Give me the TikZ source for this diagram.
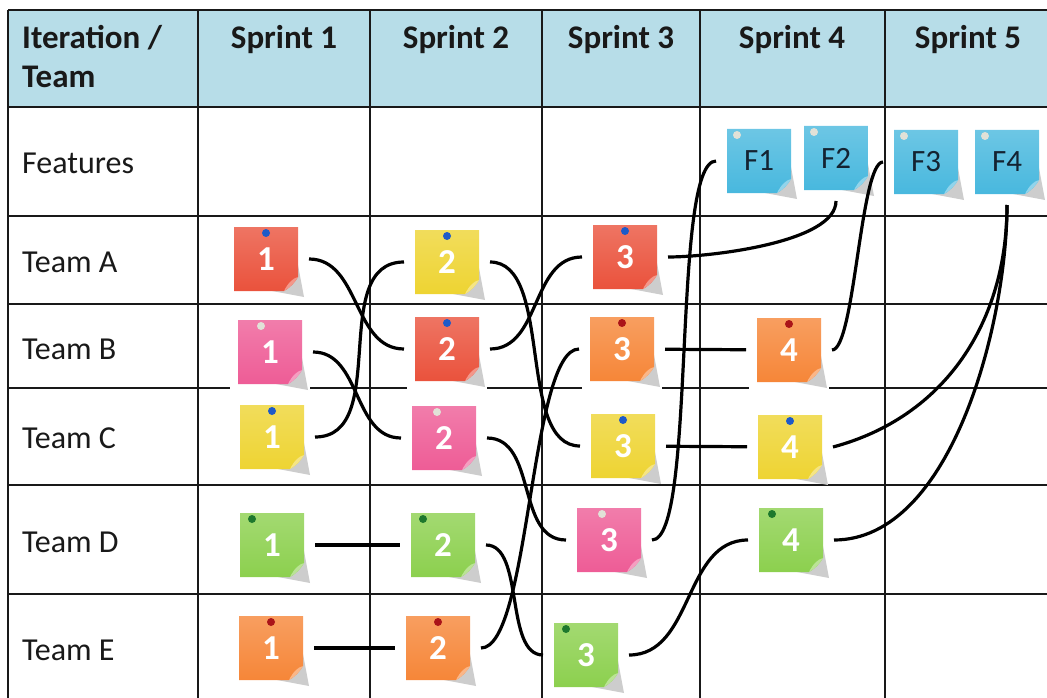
\documentclass[tikz,border=0pt]{standalone}
\usepackage{fontspec}
\setmainfont{Carlito}
\usepackage{tikz}
\usepackage{xcolor}
\definecolor{headerblue}{RGB}{183, 221, 232}
\definecolor{gridblack}{RGB}{25, 25, 25}
\definecolor{notered}{RGB}{234, 82, 60}
\definecolor{noteyellow}{RGB}{238, 212, 50}
\definecolor{notepink}{RGB}{238, 92, 150}
\definecolor{noteorange}{RGB}{246, 134, 56}
\definecolor{notegreen}{RGB}{140, 208, 78}
\definecolor{noteblue}{RGB}{72, 184, 222}
\definecolor{pinblue}{RGB}{30, 90, 200}
\definecolor{pinred}{RGB}{170, 20, 25}
\definecolor{pingreen}{RGB}{30, 120, 45}
\definecolor{pinwhite}{RGB}{225, 225, 215}
\definecolor{curlgray}{RGB}{205, 205, 205}
\definecolor{featuretext}{RGB}{20, 35, 50}

% sticky note: [pin x offset]{name}{position}{paper}{pin}{text style}{text}
\newcommand{\postit}[7][0]{%
    \begin{scope}[shift={#3}]
        \fill[curl] (32,-6) -- (38,-38) -- (6,-32) -- cycle;
        \shade[top color=#4!80!white, bottom color=#4] (-32,32) -- (32,32) -- (32,-18) .. controls (29,-23) and (25,-28) .. (18,-32) -- (-32,-32) -- cycle;
        \fill[#4!60!white] (32,-18) .. controls (27,-19) and (22,-24) .. (18,-32) .. controls (25,-28) and (29,-23) .. (32,-18) -- cycle;
        \fill[#5] (#1,26) circle (4);
    \end{scope}
    \node[#6] (#2) at #3 {#7};
}

\begin{document}
\begin{tikzpicture}[x=1pt, y=1pt,
        % Table styles
        gridline/.style={line width=1.6pt, gridblack},
        headtext/.style={font=\fontsize{33}{39}\selectfont\bfseries, text=gridblack, inner sep=0pt},
        rowtext/.style={font=\fontsize{32}{39}\selectfont, text=gridblack, inner sep=0pt, anchor=base west},
        backing/.style={fill=white},
        % Sticky note styles
        tasknote/.style={minimum size=64pt, inner sep=0pt, outer sep=11pt, font=\fontsize{35}{35}\selectfont\bfseries, text=white},
        featnote/.style={tasknote, font=\fontsize{31}{31}\selectfont, text=featuretext},
        curl/.style={fill=curlgray},
        link/.style={line width=3.2pt, black}
    ]
    \useasboundingbox (0,0) rectangle (1047,-698);

    % Table grid
    \fill[headerblue] (8,-10) rectangle (1060,-107);
    \foreach \x in {8,198,370,542,700,885}
        \draw[gridline] (\x,-10) -- (\x,-710);
    \foreach \y in {10,107,216,304,388,485,594}
        \draw[gridline] (8,-\y) -- (1060,-\y);

    % Header and row labels
    \node[headtext, anchor=north west, align=left] (corner) at (22,-25) {Iteration /\\Team};
    \node[headtext, anchor=base] (s1) at (284,-49) {Sprint 1};
    \node[headtext, anchor=base] (s2) at (456,-49) {Sprint 2};
    \node[headtext, anchor=base] (s3) at (621,-49) {Sprint 3};
    \node[headtext, anchor=base] (s4) at (792,-49) {Sprint 4};
    \node[headtext, anchor=base] (s5) at (968,-49) {Sprint 5};
    \node[rowtext] (features) at (22,-173) {Features};
    \node[rowtext] (teamA) at (22,-272) {Team A};
    \node[rowtext] (teamB) at (22,-359) {Team B};
    \node[rowtext] (teamC) at (22,-448) {Team C};
    \node[rowtext] (teamD) at (22,-552) {Team D};
    \node[rowtext] (teamE) at (22,-660) {Team E};

    % Team B notes hide the row line behind them
    \foreach \x in {270,447,622,789}
        \fill[backing] (\x-40,-312) rectangle (\x+40,-392);

    % Feature notes
    \postit[-22]{F1}{(759,-161)}{noteblue}{pinwhite}{featnote}{F1}
    \postit[-22]{F2}{(836,-158)}{noteblue}{pinwhite}{featnote}{F2}
    \postit[-22]{F3}{(926,-162)}{noteblue}{pinwhite}{featnote}{F3}
    \postit[-22]{F4}{(1007,-162)}{noteblue}{pinwhite}{featnote}{F4}

    % Team notes
    \postit{A1}{(266,-259)}{notered}{pinblue}{tasknote}{1}
    \postit{A2}{(447,-262)}{noteyellow}{pinblue}{tasknote}{2}
    \postit{A3}{(625,-257)}{notered}{pinblue}{tasknote}{3}
    \postit[-9]{B1}{(270,-352)}{notepink}{pinwhite}{tasknote}{1}
    \postit{B2}{(447,-349)}{notered}{pinblue}{tasknote}{2}
    \postit{B3}{(622,-349)}{noteorange}{pinred}{tasknote}{3}
    \postit{B4}{(789,-350)}{noteorange}{pinred}{tasknote}{4}
    \postit{C1}{(272,-437)}{noteyellow}{pinblue}{tasknote}{1}
    \postit[-7]{C2}{(444,-438)}{notepink}{pinwhite}{tasknote}{2}
    \postit{C3}{(623,-446)}{noteyellow}{pinblue}{tasknote}{3}
    \postit{C4}{(790,-447)}{noteyellow}{pinblue}{tasknote}{4}
    \postit[-20]{D1}{(272,-545)}{notegreen}{pingreen}{tasknote}{1}
    \postit[-20]{D2}{(443,-545)}{notegreen}{pingreen}{tasknote}{2}
    \postit[-7]{D3}{(609,-540)}{notepink}{pinwhite}{tasknote}{3}
    \postit[-19]{D4}{(791,-540)}{notegreen}{pingreen}{tasknote}{4}
    \postit{E1}{(271,-648)}{noteorange}{pinred}{tasknote}{1}
    \postit{E2}{(438,-648)}{noteorange}{pinred}{tasknote}{2}
    \postit[-20]{E3}{(586,-655)}{notegreen}{pingreen}{tasknote}{3}

    % Dependencies between notes
    \draw[link] (A1.east) to[out=0, in=180] (B2.west);
    \draw[link] (C1.east) to[out=0, in=180] (A2.west);
    \draw[link] (B1.east) to[out=0, in=180] (C2.west);
    \draw[link] (A2.east) to[out=0, in=180, looseness=0.8] (C3.west);
    \draw[link] (B2.east) to[out=0, in=180] (A3.west);
    \draw[link] (C2.east) to[out=0, in=180] (D3.west);
    \draw[link] (D1) -- (D2);
    \draw[link] (E1) -- (E2);
    \draw[link] (D2.east) to[out=0, in=180, looseness=0.8] (E3.west);
    \draw[link] (E2.east) to[out=0, in=180, looseness=0.4] (B3.west);
    \draw[link] (B3) -- (B4);
    \draw[link] (C3) -- (C4);
    \draw[link] (E3.east) to[out=0, in=180] (D4.west);
    \draw[link] (D3.east) to[out=0, in=180, looseness=0.3] (F1.west);
    \draw[link] (A3.east) to[out=0, in=-90, looseness=0.6] (F2.south);
    \draw[link] (B4.east) to[out=0, in=180, looseness=0.3] (F3.west);
    \draw[link] (C4.east) to[out=15, in=-90] (F4.south);
    \draw[link] (D4.east) to[out=0, in=-90, looseness=0.8] (F4.south);

\end{tikzpicture}
\end{document}
